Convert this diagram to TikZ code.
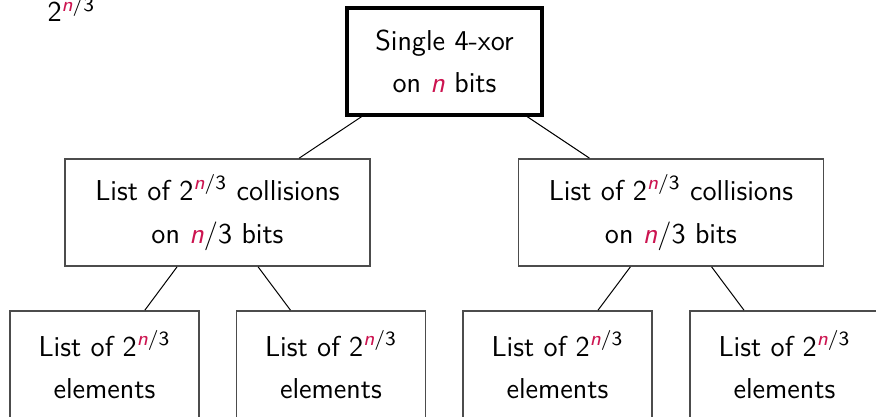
\documentclass[tikz,border=0pt]{standalone}
\usepackage{amsmath}
\usepackage{tikz}

\definecolor{nred}{RGB}{204,20,80}
\newcommand{\nv}{\textcolor{nred}{\textit{n}}}
\newcommand{\pw}{2\textsuperscript{\nv/3}}

\tikzset{
  box/.style={draw=black!70, line width=0.7pt, align=center, font=\sffamily\fontsize{11.5}{17}\selectfont},
  rootbox/.style={box, draw=black, line width=1.3pt},
  link/.style={line width=0.4pt}
}

\begin{document}
\begin{tikzpicture}[x=0.4pt, y=-0.4pt]
            \useasboundingbox (0,0) rectangle (876,417);

            \node [anchor=base west, font=\sffamily\fontsize{11.5}{17}\selectfont, inner sep=0pt] (corner) at (47,22) {\pw};

            \node [rootbox, minimum width=78pt, minimum height=42.8pt] (root) at (444.5,61.5)
                {Single 4-xor\\on \nv{} bits};

            \node [box, minimum width=122pt, minimum height=42.8pt] (colL) at (217.5,212.5)
                {List of \pw{} collisions\\on \nv/3 bits};
            \node [box, minimum width=122pt, minimum height=42.8pt] (colR) at (671,212.5)
                {List of \pw{} collisions\\on \nv/3 bits};

            \node [box, minimum width=75.6pt, minimum height=42.8pt] (elA) at (104.5,364.5)
                {List of \pw\\elements};
            \node [box, minimum width=75.6pt, minimum height=42.8pt] (elB) at (331,364.5)
                {List of \pw\\elements};
            \node [box, minimum width=75.6pt, minimum height=42.8pt] (elC) at (557.5,364.5)
                {List of \pw\\elements};
            \node [box, minimum width=75.6pt, minimum height=42.8pt] (elD) at (784.5,364.5)
                {List of \pw\\elements};

            \draw [link] (root) -- (colL);
            \draw [link] (root) -- (colR);
            \draw [link] (colL) -- (elA);
            \draw [link] (colL) -- (elB);
            \draw [link] (colR) -- (elC);
            \draw [link] (colR) -- (elD);
        \end{tikzpicture}
\end{document}
